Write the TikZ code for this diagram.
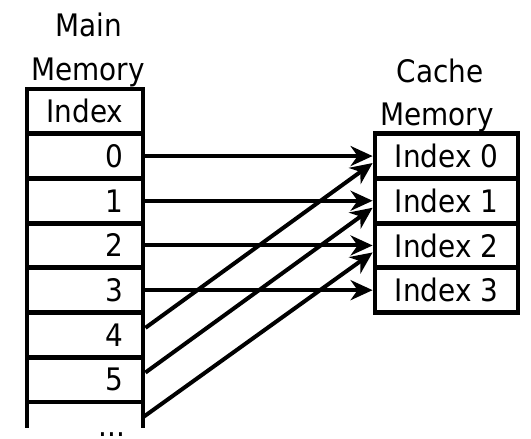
\documentclass[tikz,border=0pt]{standalone}
\usepackage{fontspec}
\newfontfamily\dv[FakeStretch=0.9]{DejaVu Sans}
\usetikzlibrary{arrows.meta}
\begin{document}
\begin{tikzpicture}[x=1pt,y=-1pt,
  txt/.style={inner sep=0pt, font=\dv\fontsize{31}{36}\selectfont},
  mcell/.style={draw, line width=4.8pt, minimum width=116pt, minimum height=44.7pt,
    inner ysep=0pt, inner xsep=20pt, text width=76pt, align=right,
    font=\dv\fontsize{31}{36}\selectfont},
  hcell/.style={draw, line width=4.8pt, minimum width=116pt, minimum height=44.7pt,
    inner sep=0pt, font=\dv\fontsize{31}{36}\selectfont},
  ccell/.style={draw, line width=4.8pt, minimum width=143pt, minimum height=44.7pt,
    inner sep=0pt, font=\dv\fontsize{31}{36}\selectfont},
  arr/.style={-{Stealth[length=22pt,width=20pt,inset=7pt]}, line width=4pt}]
\useasboundingbox (0,0) rectangle (531,439);
\clip (0,0) rectangle (531,439);
\fill[white] (0,0) rectangle (531,439);
% headers
\node[txt, anchor=base] (hmain) at (88.5,36) {Main};
\node[txt, anchor=base] (hmem) at (88,80) {Memory};
\node[txt, anchor=base] (hcache) at (440,82) {Cache};
\node[txt, anchor=base] (hcmem) at (437,125) {Memory};
% main memory
\node[hcell] (midx) at (85,111.35) {Index};
\node[mcell] (m0) at (85,156.05) {0};
\node[mcell] (m1) at (85,200.75) {1};
\node[mcell] (m2) at (85,245.45) {2};
\node[mcell] (m3) at (85,290.15) {3};
\node[mcell] (m4) at (85,334.85) {4};
\node[mcell] (m5) at (85,379.55) {5};
\node[minimum width=116pt, minimum height=44.7pt, inner sep=0pt, outer sep=0pt] (m6) at (85,424.25) {};
\draw[line width=4.8pt] (m6.north west) -- ++(0,26);
\draw[line width=4.8pt] (m6.north east) -- ++(0,26);
\node[txt, anchor=base] (dots) at (112,436.5) {...};
% cache memory
\node[ccell] (c0) at (446.5,156.05) {Index 0};
\node[ccell] (c1) at (446.5,200.75) {Index 1};
\node[ccell] (c2) at (446.5,245.45) {Index 2};
\node[ccell] (c3) at (446.5,290.15) {Index 3};
% arrows
\draw[arr] (m0.east) -- (c0.west);
\draw[arr] (m1.east) -- (c1.west);
\draw[arr] (m2.east) -- (c2.west);
\draw[arr] (m3.east) -- (c3.west);
\draw[arr] ([yshift=7pt]m4.east) -- ([yshift=-7pt]c0.west);
\draw[arr] ([yshift=7pt]m5.east) -- ([yshift=-7pt]c1.west);
\draw[arr] ([yshift=7pt]m6.east) -- ([yshift=-7pt]c2.west);
\end{tikzpicture}
\end{document}
